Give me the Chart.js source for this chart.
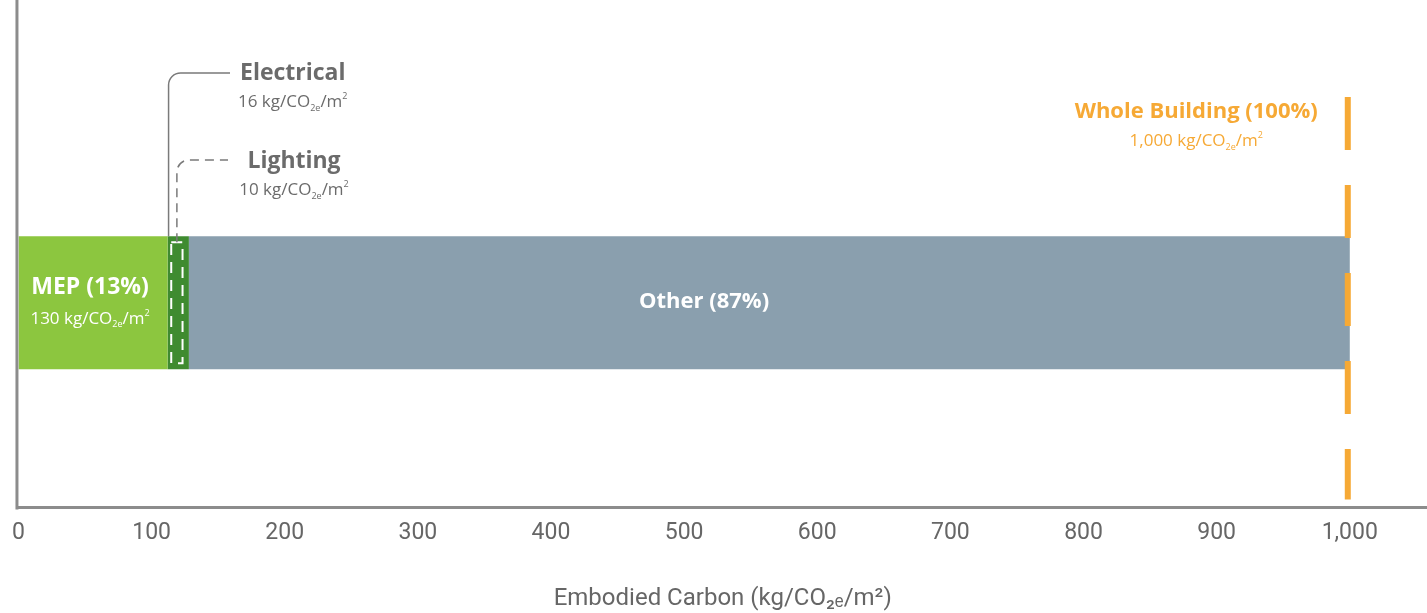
<!DOCTYPE html>
<html>
<head>
<meta charset="utf-8">
<script src="https://cdn.jsdelivr.net/npm/chart.js@4/dist/chart.umd.min.js"></script>
<style>
  html, body { margin: 0; padding: 0; background: #fff; }
  #wrap { width: 1427px; height: 613px; position: relative; }
</style>
</head>
<body>
<div id="wrap"><canvas id="myChart"></canvas></div>
<script>
// data
const categories = ["Building"];
const mepOther = [112];      // MEP without electrical
const electrical = [16];
const otherValues = [872];
const lighting = [114, 124]; // lighting sits inside electrical
const wholeBuilding = 1000;
const xMax = 1058;
const xStep = 100;

const FONT = "'Open Sans', Roboto, sans-serif";
const TICKFONT = "Roboto, sans-serif";
const GRAY = "#6b6b6b";
const ORANGE = "#f6a935";

// draws "N kg/CO2e/m2" with sub/superscripts
function unitParts(prefix) {
  return [
    { t: prefix + " kg/CO" },
    { t: "2e", sub: true },
    { t: "/m" },
    { t: "2", sup: true },
  ];
}
function drawUnit(ctx, prefix, cx, y, size, color) {
  const parts = unitParts(prefix);
  const small = Math.round(size * 0.55);
  let w = 0;
  parts.forEach((p) => {
    ctx.font = (p.sub || p.sup ? small : size) + "px " + FONT;
    p.w = ctx.measureText(p.t).width;
    w += p.w;
  });
  let x = cx - w / 2;
  ctx.fillStyle = color;
  ctx.textAlign = "left";
  ctx.textBaseline = "middle";
  parts.forEach((p) => {
    ctx.font = (p.sub || p.sup ? small : size) + "px " + FONT;
    let dy = 0;
    if (p.sub) dy = size * 0.35;
    if (p.sup) dy = -size * 0.3;
    ctx.fillText(p.t, x, y + dy);
    x += p.w;
  });
}
function boldText(ctx, txt, x, y, size, color, align) {
  ctx.font = "bold " + size + "px " + FONT;
  ctx.fillStyle = color;
  ctx.textAlign = align || "center";
  ctx.textBaseline = "middle";
  ctx.fillText(txt, x, y);
  return ctx.measureText(txt).width;
}

const annotations = {
  id: "annotations",
  afterDatasetsDraw(chart) {
    const ctx = chart.ctx;
    const xs = chart.scales.x;
    const area = chart.chartArea;
    const elec = chart.getDatasetMeta(1).data[0];
    const barTop = elec.y - elec.height / 2;
    const barBot = elec.y + elec.height / 2;
    ctx.save();

    // y axis line, full height
    ctx.strokeStyle = "#8c8c8c";
    ctx.lineWidth = 3;
    ctx.beginPath();
    ctx.moveTo(area.left - 1.5, 0);
    ctx.lineTo(area.left - 1.5, area.bottom + 2);
    ctx.stroke();

    // lighting dashed box
    const l0 = xs.getPixelForValue(lighting[0]);
    const l1 = xs.getPixelForValue(lighting[1]);
    ctx.strokeStyle = "#ffffff";
    ctx.lineWidth = 2;
    ctx.setLineDash([11, 7]);
    ctx.strokeRect(l0 + 1, barTop + 6, l1 - l0 - 2, barBot - barTop - 12);

    // electrical leader
    const ex = xs.getPixelForValue(mepOther[0]) + 1;
    const eY = area.top - 25;
    const r = 12;
    const lineEnd = 230;
    ctx.setLineDash([]);
    ctx.strokeStyle = "#7a7a7a";
    ctx.lineWidth = 1.5;
    ctx.beginPath();
    ctx.moveTo(ex, barTop);
    ctx.lineTo(ex, eY + r);
    ctx.arcTo(ex, eY, ex + r, eY, r);
    ctx.lineTo(lineEnd, eY);
    ctx.stroke();
    let w = boldText(ctx, "Electrical", lineEnd + 10, eY, 23, GRAY, "left");
    drawUnit(ctx, String(electrical[0]), lineEnd + 10 + w / 2, eY + 29, 17, GRAY);

    // lighting leader
    const lx = (l0 + l1) / 2;
    const lY = area.top + 62;
    ctx.setLineDash([9, 6]);
    ctx.beginPath();
    ctx.moveTo(lx, barTop + 6);
    ctx.lineTo(lx, lY + r);
    ctx.arcTo(lx, lY, lx + r, lY, r);
    ctx.lineTo(lineEnd - 2, lY);
    ctx.stroke();
    ctx.setLineDash([]);
    boldText(ctx, "Lighting", lineEnd + 64, lY + 1, 23, GRAY, "center");
    drawUnit(ctx, String(lighting[1] - lighting[0]), lineEnd + 64, lY + 30, 17, GRAY);

    // MEP + other labels
    const mepEl = chart.getDatasetMeta(0).data[0];
    const mepCx = (mepEl.base + mepEl.x) / 2 - 3;
    boldText(ctx, "MEP (13%)", mepCx, elec.y - 15, 23, "#ffffff");
    drawUnit(ctx, String(mepOther[0] + electrical[0] + 2), mepCx, elec.y + 16, 17, "#ffffff");
    boldText(ctx, "Other (87%)", xs.getPixelForValue(515), elec.y - 1, 22, "#ffffff");

    // whole building line
    const wx = xs.getPixelForValue(wholeBuilding) - 2;
    ctx.strokeStyle = ORANGE;
    ctx.lineWidth = 6;
    ctx.setLineDash([53, 35]);
    ctx.beginPath();
    ctx.moveTo(wx, area.top - 1);
    ctx.lineTo(wx, area.bottom - 8);
    ctx.stroke();
    ctx.setLineDash([]);
    ctx.font = "bold 22px " + FONT;
    const tw = ctx.measureText("Whole Building (100%)").width;
    const wcx = wx - 30 - tw / 2;
    boldText(ctx, "Whole Building (100%)", wcx, area.top + 14, 22, ORANGE);
    drawUnit(ctx, "1,000", wcx, area.top + 43, 17, ORANGE);

    ctx.restore();
  },
};

const ctx = document.getElementById("myChart").getContext("2d");
const myChart = new Chart(ctx, {
  type: "bar",
  data: {
    labels: categories,
    datasets: [
      { label: "MEP", data: mepOther, backgroundColor: "#8cc63f" },
      { label: "Electrical", data: electrical, backgroundColor: "#3f8b30" },
      { label: "Other", data: otherValues, backgroundColor: "#8a9fae" },
    ],
  },
  options: {
    indexAxis: "y",
    responsive: true,
    maintainAspectRatio: false,
    animation: false,
    layout: { padding: { top: 98, right: 0, left: 0, bottom: 0 } },
    datasets: { bar: { categoryPercentage: 1, barPercentage: 0.325, borderWidth: 0 } },
    plugins: { legend: { display: false }, tooltip: { enabled: false } },
    scales: {
      x: {
        stacked: true,
        min: 0,
        max: xMax,
        grid: { display: false, drawTicks: false },
        border: { display: true, color: "#8c8c8c", width: 3 },
        ticks: {
          stepSize: xStep,
          includeBounds: false,
          padding: 12,
          color: "#666",
          font: { family: TICKFONT, size: 23 },
        },
        title: {
          display: true,
          text: "Embodied Carbon (kg/CO₂ₑ/m²)",
          color: "#666",
          font: { family: TICKFONT, size: 24 },
          padding: { top: 25, bottom: 0 },
        },
      },
      y: {
        stacked: true,
        grid: { display: false, drawTicks: false },
        border: { display: false },
        ticks: { display: false },
        afterFit(scale) { scale.width = 16; },
      },
    },
  },
  plugins: [annotations],
});
</script>
</body>
</html>
